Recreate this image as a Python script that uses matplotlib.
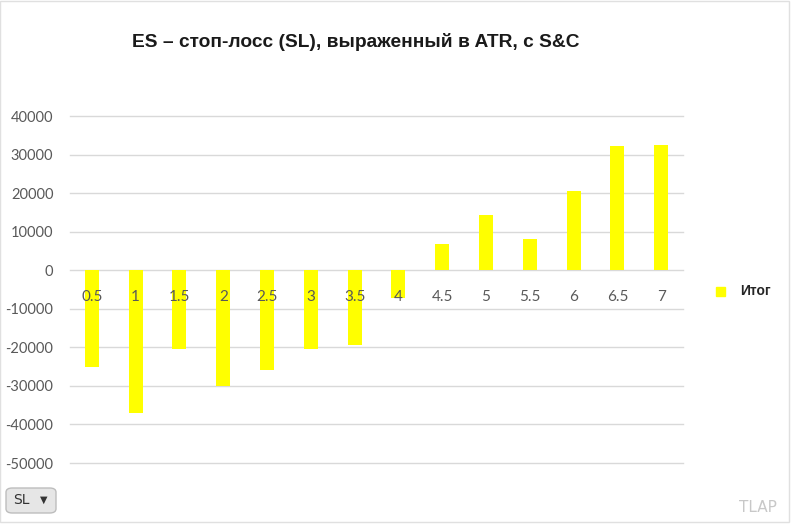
import matplotlib
matplotlib.use("Agg")
import matplotlib.pyplot as plt
from matplotlib.patches import FancyBboxPatch, Rectangle

categories = ["0.5", "1", "1.5", "2", "2.5", "3", "3.5", "4", "4.5", "5", "5.5", "6", "6.5", "7"]
values = [-25000, -37000, -20500, -30000, -26000, -20500, -19500, -7300,
          6700, 14200, 8200, 20500, 32100, 32400]
yticks = [40000, 30000, 20000, 10000, 0, -10000, -20000, -30000, -40000, -50000]
title = "ES – стоп-лосс (SL), выраженный в ATR, с S&C"
series_name = "Итог"

fig = plt.figure(figsize=(7.92, 5.30), dpi=100)
ax = fig.add_axes([70/792, 1-463/530, (683-70)/792, (463-116)/530])

x = list(range(len(categories)))
ax.bar(x, values, width=0.32, color="#FFFF00", zorder=2)

ax.set_xlim(-0.5, len(categories)-0.5)
ax.set_ylim(-50000, 40000)
ax.set_yticks(yticks)
ax.set_yticklabels([str(v) for v in yticks], fontsize=10.5, color="#595959", family="Lato")
ax.tick_params(axis="y", length=0, pad=12)
ax.set_xticks([])
for s in ax.spines.values():
    s.set_visible(False)
for v in yticks:
    ax.axhline(v, color="#D9D9D9", lw=1, zorder=1, clip_on=False)

for xi, lab in zip(x, categories):
    ax.annotate(lab, (xi, 0), xytext=(0, -19), textcoords="offset points",
                ha="center", va="center", fontsize=11, color="#595959",
                family="Lato", zorder=3)

fig.text(356/792, 1-42/530, title, ha="center", va="center", fontsize=13.8,
         fontweight="bold", color="#1a1a1a", family="Liberation Sans")

# legend
fig.patches.append(Rectangle((716/792, 1-296/530), 9/792, 9/530,
                             transform=fig.transFigure, color="#FFFF00"))
fig.text(740/792, 1-291/530, series_name, ha="left", va="center", fontsize=10,
         fontweight="bold", color="#262626", family="Liberation Sans")

# filter button
btn = FancyBboxPatch((6/792, 1-513/530), 50/792, 25/530,
                     boxstyle="round,pad=0,rounding_size=0.008",
                     transform=fig.transFigure, facecolor="#E6E6E6",
                     edgecolor="#BDBDBD", lw=1)
fig.patches.append(btn)
fig.text(13/792, 1-500/530, "SL", ha="left", va="center", fontsize=10,
         color="#333333", family="Liberation Sans Narrow")
fig.text(44/792, 1-500/530, "▼", ha="center", va="center", fontsize=7,
         color="#333333", family="DejaVu Sans")

fig.text(777/792, 1-507/530, "TLAP", ha="right", va="center", fontsize=11,
         color="#C8C8C8", family="Liberation Sans Narrow")

# light border lines like spreadsheet
fig.patches.append(Rectangle((0, 1-522/530), 789/792, 522/530 - 0.001,
                             transform=fig.transFigure, fill=False,
                             edgecolor="#E0E0E0", lw=1))

fig.savefig("out.png", dpi=100)
